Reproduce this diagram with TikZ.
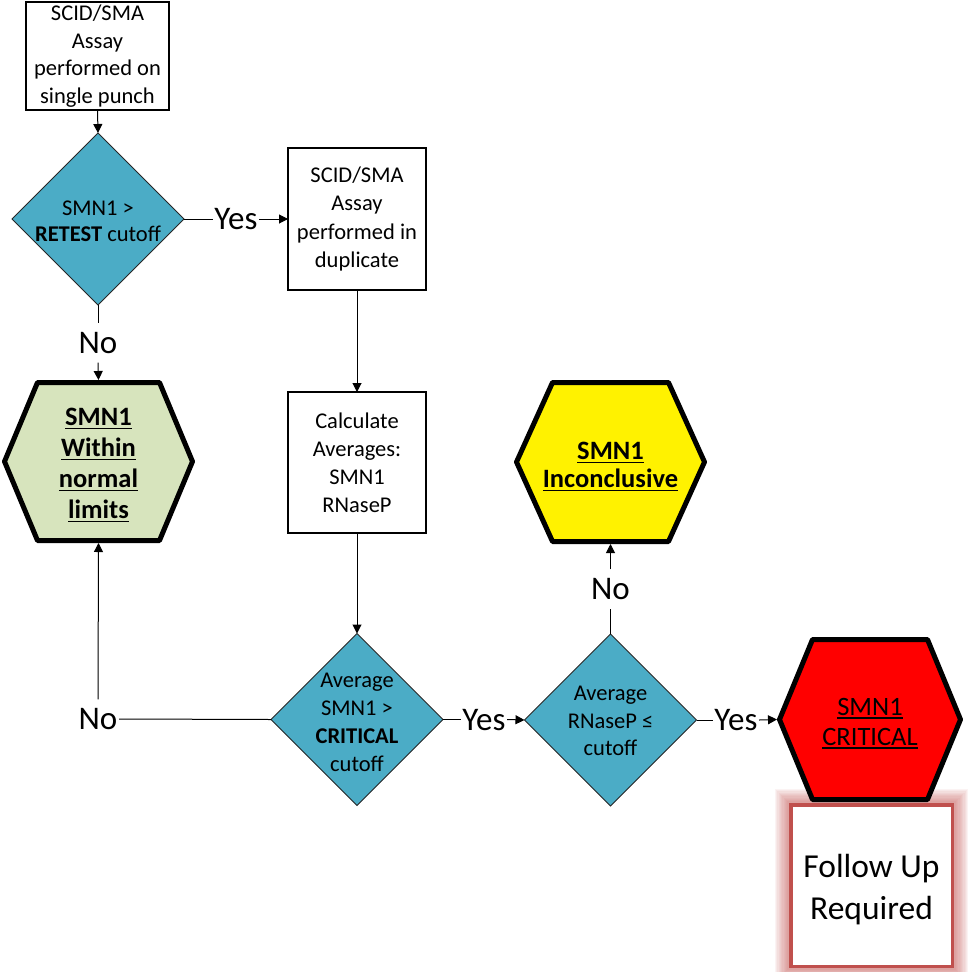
\documentclass[tikz,border=0pt]{standalone}
\usepackage{fontspec}
\setmainfont{Carlito}
\usetikzlibrary{shapes.geometric,arrows.meta,calc}
\definecolor{diafill}{HTML}{4BACC6}
\definecolor{greenfill}{HTML}{D7E4BD}
\definecolor{fuborder}{HTML}{C0504D}
\newcommand\myul[1]{\setbox0\hbox{#1}\leavevmode\rlap{\rule[-3.5pt]{\wd0}{1.6pt}}\box0}
% name, cx, cy, half width, half height (centre line), inset, fill, text style, text
\newcommand\hexnode[9]{%
  \filldraw[hexline, fill=#7] (#2-#4+#6,#3-#5) -- (#2+#4-#6,#3-#5) -- (#2+#4,#3)
     -- (#2+#4-#6,#3+#5) -- (#2-#4+#6,#3+#5) -- (#2-#4,#3) -- cycle;
  \node[htext, minimum width={2*#4+5}, minimum height={2*#5+5}] (#1) at (#2,#3) {};
  \node[htext, #8] (#1t) at (#1) {#9};}
\begin{document}
\begin{tikzpicture}[x=1pt,y=-1pt,
  box/.style={draw, line width=1.2pt, fill=white, inner sep=0pt, outer sep=0pt, align=center,
    font=\fontsize{22.5}{27.5}\selectfont},
  dia/.style={diamond, draw=black!85, line width=0.9pt, fill=diafill, inner sep=0pt, outer sep=0pt,
    minimum width=172pt, minimum height=172pt},
  dtext/.style={align=center, inner sep=0pt, font=\fontsize{22.5}{27.5}\selectfont},
  lbl/.style={font=\fontsize{33}{33}\selectfont, inner xsep=1.5pt, inner ysep=9pt,
    text height=21pt, text depth=0pt},
  ln/.style={line width=1pt},
  arr/.style={line width=1pt, -{Triangle[length=9pt,width=9pt]}},
  hexline/.style={line width=5pt, line join=round, draw=black},
  htext/.style={align=center, inner sep=0pt, outer sep=0pt},
  glow/.style={draw=fuborder, opacity=0.065}
]
\useasboundingbox (0,0) rectangle (969,972);

% boxes
\node[box, minimum width=143pt, minimum height=108pt] (b1) at (97.5,56)
  {SCID/SMA\\Assay\\performed on\\single punch};
\node[box, minimum width=138pt, minimum height=142pt, font=\fontsize{22.5}{28.5}\selectfont] (b2) at (357,219)
  {SCID/SMA\\Assay\\performed in\\duplicate};
\node[box, minimum width=138pt, minimum height=141pt, font=\fontsize{22.5}{28}\selectfont] (b3) at (357,462.5)
  {Calculate\\Averages:\\SMN1\\RNaseP};

% diamonds
\node[dia] (d1) at (98,219) {};
\node[dtext, font=\fontsize{22.5}{26}\selectfont] (d1t) at (98,221) {SMN1 \textgreater\\\textbf{RETEST} cutoff};
\node[dia] (d2) at (357,719.5) {};
\node[dtext, font=\fontsize{22.5}{28}\selectfont] (d2t) at (357,722) {Average\\SMN1 \textgreater\\\textbf{CRITICAL}\\cutoff};
\node[dia] (d3) at (610.5,720) {};
\node[dtext] (d3t) at (610.5,721) {Average\\RNaseP ≤\\cutoff};

% green and yellow hexagons
\hexnode{hg}{98.5}{461.5}{94}{79}{33}{greenfill}{yshift=-4pt, font=\fontsize{26.5}{31}\selectfont\bfseries}
  {\myul{SMN1}\\\myul{Within}\\\myul{normal}\\\myul{limits}}
\hexnode{hy}{610.5}{462}{94}{79.5}{36}{yellow}{yshift=-5pt, font=\fontsize{26.5}{28}\selectfont\bfseries}
  {\myul{SMN1}\\\myul{Inconclusive}}

% follow up box with soft glow, then red hexagon over the glow
\node[inner sep=0pt, outer sep=0pt, minimum width=161.5pt, minimum height=161.5pt] (fu) at (871.5,885.5) {};
\foreach \w in {32,29.5,...,6}
  \draw[glow, line width=\w pt] (fu.north west) rectangle (fu.south east);
\draw[fuborder, line width=3.5pt, fill=white] (fu.north west) rectangle (fu.south east);
\node[align=center, inner sep=0pt, font=\fontsize{33.5}{42}\selectfont] (fut) at (871.5,889.5)
  {Follow Up\\Required};
\hexnode{hr}{870}{719.5}{90.5}{80}{33}{red}{yshift=-4pt, font=\fontsize{26.5}{30}\selectfont}
  {\myul{SMN1}\\\myul{CRITICAL}}

% labels
\node[lbl] (y1) at (236,219) {Yes};
\node[lbl] (n1) at (98,343) {No};
\node[lbl] (n2) at (98,719) {No};
\node[lbl] (y2) at (484,719.5) {Yes};
\node[lbl] (n3) at (610.5,589) {No};
\node[lbl] (y3) at (736,720) {Yes};

% connectors
\draw[arr] (b1.south) -- (d1.north);
\draw[ln] (d1.east) -- (y1.west);
\draw[arr] (y1.east) -- (b2.west);
\draw[ln] (d1.south) -- (n1.north);
\draw[arr] (n1.south) -- (hg.north);
\draw[arr] (b2.south) -- (b3.north);
\draw[arr] (b3.south) -- (d2.north);
\draw[ln] (d2.west) -- (n2.east);
\draw[arr] (n2.north) -- (hg.south);
\draw[ln] (d2.east) -- (y2.west);
\draw[arr] (y2.east) -- (d3.west);
\draw[ln] (d3.north) -- (n3.south);
\draw[arr] (n3.north) -- (hy.south);
\draw[ln] (d3.east) -- (y3.west);
\draw[arr] (y3.east) -- (hr.west);
\end{tikzpicture}
\end{document}
